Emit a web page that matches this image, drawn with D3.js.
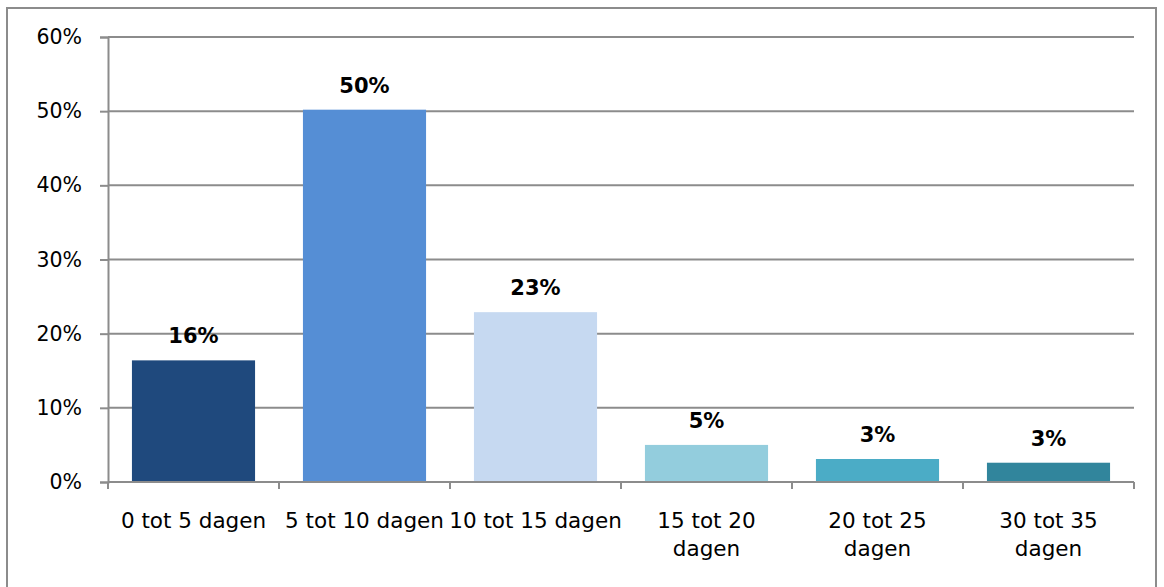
<!DOCTYPE html>
<html><head><meta charset="utf-8">
<script src="https://cdn.jsdelivr.net/npm/d3@7"></script>
<style>
html,body{margin:0;padding:0;background:#fff;}
svg text{font-family:"DejaVu Sans",sans-serif;}
</style></head>
<body>
<svg id="chart" width="1164" height="587"></svg>
<script>
const categories = ["0 tot 5 dagen","5 tot 10 dagen","10 tot 15 dagen","15 tot 20 dagen","20 tot 25 dagen","30 tot 35 dagen"];
const labelLines = [["0 tot 5 dagen"],["5 tot 10 dagen"],["10 tot 15 dagen"],["15 tot 20","dagen"],["20 tot 25","dagen"],["30 tot 35","dagen"]];
const values = [16.4, 50.2, 22.9, 5.0, 3.1, 2.6];
const valueLabels = ["16%","50%","23%","5%","3%","3%"];
const colors = ["#1F497D","#558ED5","#C6D9F1","#93CDDD","#4BACC6","#31859C"];
const yTicks = [0,10,20,30,40,50,60];

const svg = d3.select("#chart");
const plotLeft = 108, plotRight = 1134, plotTop = 37, plotBottom = 482;
const gridColor = "#8c8c8c";

// outer border
svg.append("rect").attr("x",7).attr("y",8).attr("width",1149).attr("height",600)
  .attr("fill","none").attr("stroke",gridColor).attr("stroke-width",2);

const x = d3.scaleBand().domain(categories).range([plotLeft,plotRight]).paddingInner(0.28).paddingOuter(0.14);
const y = d3.scaleLinear().domain([0,60]).range([plotBottom,plotTop]);

// gridlines
svg.append("g").selectAll("line").data(yTicks.filter(d=>d>0)).join("line")
  .attr("x1",plotLeft).attr("x2",plotRight).attr("y1",d=>y(d)).attr("y2",d=>y(d))
  .attr("stroke",gridColor).attr("stroke-width",2);

// y axis
const yAxis = svg.append("g").attr("transform",`translate(${plotLeft},0)`)
  .call(d3.axisLeft(y).tickValues(yTicks).tickFormat(d=>d+"%").tickSize(8).tickPadding(18));
yAxis.select(".domain").attr("stroke",gridColor).attr("stroke-width",2);
yAxis.selectAll(".tick line").attr("stroke",gridColor).attr("stroke-width",2);
yAxis.selectAll(".tick text").attr("font-size",20.5).attr("fill","#000")
  .attr("font-family","'DejaVu Sans', sans-serif");

// bars
svg.append("g").selectAll("rect").data(values).join("rect")
  .attr("x",(d,i)=>x(categories[i])).attr("width",x.bandwidth())
  .attr("y",d=>y(d)).attr("height",d=>plotBottom-y(d))
  .attr("fill",(d,i)=>colors[i]);

// x axis line and ticks at boundaries
svg.append("line").attr("x1",plotLeft).attr("x2",plotRight).attr("y1",plotBottom).attr("y2",plotBottom)
  .attr("stroke",gridColor).attr("stroke-width",2);
const step = x.step();
svg.append("g").selectAll("line").data(d3.range(categories.length+1)).join("line")
  .attr("x1",i=>plotLeft+i*step).attr("x2",i=>plotLeft+i*step)
  .attr("y1",plotBottom).attr("y2",plotBottom+7)
  .attr("stroke",gridColor).attr("stroke-width",2);

// x labels
const xl = svg.append("g").selectAll("text").data(categories).join("text")
  .attr("x",d=>x(d)+x.bandwidth()/2).attr("y",528)
  .attr("text-anchor","middle").attr("font-size",21.5).attr("fill","#000");
xl.each(function(d,i){
  d3.select(this).selectAll("tspan").data(labelLines[i]).join("tspan")
    .attr("x",x(d)+x.bandwidth()/2).attr("dy",(t,j)=>j===0?0:28).text(t=>t);
});

// value labels
svg.append("g").selectAll("text").data(values).join("text")
  .attr("x",(d,i)=>x(categories[i])+x.bandwidth()/2).attr("y",d=>y(d)-17)
  .attr("text-anchor","middle").attr("font-size",21).attr("font-weight","bold").attr("fill","#000")
  .attr("font-family","Lato, sans-serif")
  .text((d,i)=>valueLabels[i]);
</script>
</body></html>
